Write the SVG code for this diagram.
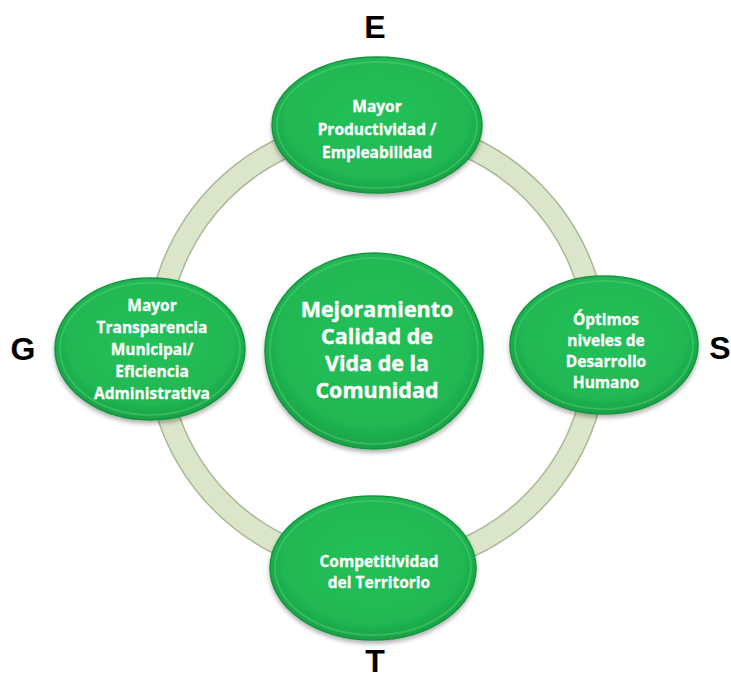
<svg xmlns="http://www.w3.org/2000/svg" width="731" height="680" viewBox="0 0 731 680">
<defs>
<radialGradient id="g" cx="50%" cy="45%" r="55%">
<stop offset="0" stop-color="#25c15a"/>
<stop offset="0.8" stop-color="#20b752"/>
<stop offset="1" stop-color="#199f45"/>
</radialGradient>
<filter id="sh" x="-20%" y="-20%" width="140%" height="150%">
<feGaussianBlur in="SourceAlpha" stdDeviation="2"/>
<feOffset dy="3" result="b"/>
<feFlood flood-color="#000" flood-opacity="0.3"/>
<feComposite in2="b" operator="in"/>
<feMerge><feMergeNode/><feMergeNode in="SourceGraphic"/></feMerge>
</filter>
</defs>
<style>
.n{fill:url(#g);stroke:#169540;stroke-width:1.5;filter:url(#sh)}
.rim{fill:none;stroke:#4fd27c;stroke-opacity:0.45;stroke-width:2}
.t{font-family:"Open Sans","Liberation Sans",sans-serif;font-weight:bold;fill:#fff;text-anchor:middle;font-size:15.5px;stroke:#fff;stroke-width:0.3}
.c{font-size:21.5px;stroke-width:0.4}
.l{font-family:"Liberation Sans",Arial,sans-serif;font-weight:bold;fill:#000;text-anchor:middle;font-size:32px}
</style>
<rect width="731" height="680" fill="#fff"/>
<g id="connectors">
<circle cx="377" cy="347" r="220" fill="none" stroke="#a9b894" stroke-width="23"/>
<circle cx="377" cy="347" r="220" fill="none" stroke="#dbe5c9" stroke-width="20"/>
</g>
<g id="center">
<ellipse class="n" cx="374" cy="351" rx="109" ry="98"/>
<ellipse class="rim" cx="374" cy="351" rx="104" ry="93"/>
<text class="t c" x="377" y="317">Mejoramiento</text>
<text class="t c" x="377" y="344">Calidad de</text>
<text class="t c" x="377" y="371">Vida  de la</text>
<text class="t c" x="377" y="398">Comunidad</text>
</g>
<g id="top">
<ellipse class="n" cx="377" cy="125" rx="105" ry="68"/>
<ellipse class="rim" cx="377" cy="125" rx="100" ry="63"/>
<text class="t" x="377" y="112">Mayor</text>
<text class="t" x="377" y="135">Productividad /</text>
<text class="t" x="377" y="158">Empleabilidad</text>
</g>
<g id="left">
<ellipse class="n" cx="150" cy="349" rx="95" ry="71"/>
<ellipse class="rim" cx="150" cy="349" rx="90" ry="66"/>
<text class="t" x="152" y="311">Mayor</text>
<text class="t" x="152" y="333">Transparencia</text>
<text class="t" x="152" y="355">Municipal/</text>
<text class="t" x="152" y="377">Eficiencia</text>
<text class="t" x="152" y="399">Administrativa</text>
</g>
<g id="right">
<ellipse class="n" cx="604" cy="345" rx="94" ry="69"/>
<ellipse class="rim" cx="604" cy="345" rx="89" ry="64"/>
<text class="t" x="606" y="325">Óptimos</text>
<text class="t" x="606" y="346">niveles de</text>
<text class="t" x="606" y="367">Desarrollo</text>
<text class="t" x="606" y="388">Humano</text>
</g>
<g id="bottom">
<ellipse class="n" cx="373" cy="568" rx="103" ry="72"/>
<ellipse class="rim" cx="373" cy="568" rx="98" ry="67"/>
<text class="t" x="379" y="567">Competitividad</text>
<text class="t" x="379" y="588">del Territorio</text>
</g>
<g id="labels">
<text class="l" x="375" y="38">E</text>
<text class="l" x="23" y="360">G</text>
<text class="l" x="720" y="359">S</text>
<text class="l" x="375" y="672">T</text>
</g>
</svg>
